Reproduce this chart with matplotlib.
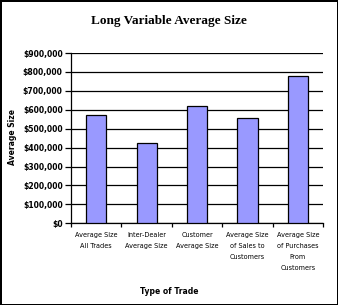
import numpy as np
import matplotlib.pyplot as plt

categories = ['Average Size\nAll Trades', 'Inter-Dealer\nAverage Size',
              'Customer\nAverage Size', 'Average Size\nof Sales to\nCustomers',
              'Average Size\nof Purchases\nFrom\nCustomers']
values = [575000, 422000, 622000, 554000, 780000]
yticks = [0, 100000, 200000, 300000, 400000, 500000, 600000, 700000, 800000, 900000]

fig = plt.figure(figsize=(3.38, 3.05), dpi=100, facecolor='white',
                 edgecolor='black', linewidth=2)
ax = fig.add_axes([0.210, 0.268, 0.746, 0.558])

x = np.arange(len(categories))
ax.bar(x, values, width=0.4, color='#9999ff', edgecolor='black', linewidth=0.9,
       zorder=3)

ax.set_ylim(0, 900000)
ax.set_xlim(-0.5, len(categories) - 0.5)
ax.set_yticks(yticks)
ax.set_yticklabels(['$' + format(v, ',') for v in yticks], fontsize=5.5,
                   fontweight='bold')
ax.yaxis.grid(True, color='black', linewidth=0.9, zorder=0)

ax.set_xticks(x)
ax.set_xticklabels(categories, fontsize=4.7, linespacing=2.0, va='top')
ax.set_xticks(np.arange(-0.5, len(categories)), minor=True)
ax.tick_params(axis='x', which='major', length=0, pad=6)
ax.tick_params(axis='x', which='minor', length=3, width=0.9, direction='out')
ax.tick_params(axis='y', length=4, width=0.9, direction='out', pad=2)

for s in ['top', 'right']:
    ax.spines[s].set_visible(False)
for s in ['left', 'bottom']:
    ax.spines[s].set_linewidth(0.9)

fig.text(0.5, 0.932, 'Long Variable Average Size', ha='center', va='center',
         fontsize=9.5, fontweight='bold', family='Liberation Serif')
fig.text(0.5, 0.043, 'Type of Trade', ha='center', va='center', fontsize=5.5,
         fontweight='bold')
fig.text(0.036, 0.55, 'Average Size', ha='center', va='center', rotation=90,
         fontsize=5.5, fontweight='bold')

fig.savefig('out.png', dpi=100)
